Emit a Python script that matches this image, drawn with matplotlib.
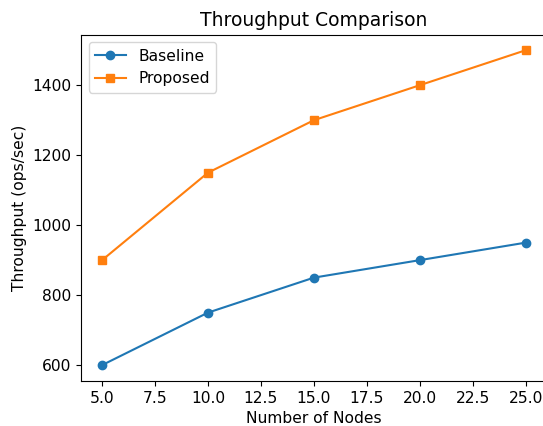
import matplotlib
matplotlib.use("Agg")
import matplotlib.pyplot as plt

nodes = [5, 10, 15, 20, 25]
baseline = [600, 750, 850, 900, 950]
proposed = [900, 1150, 1300, 1400, 1500]

fig, ax = plt.subplots(figsize=(5.43, 4.26), dpi=100)

ax.plot(nodes, baseline, marker="o", label="Baseline")
ax.plot(nodes, proposed, marker="s", label="Proposed")

ax.set_title("Throughput Comparison", fontsize=13.5)
ax.set_xlabel("Number of Nodes", fontsize=11.2)
ax.set_ylabel("Throughput (ops/sec)", fontsize=11.2)
ax.tick_params(labelsize=11.2)
ax.legend(fontsize=11.2)

# the reference crop cuts off the right spine
fig.subplots_adjust(left=0.149, right=1.007, bottom=0.106, top=0.919)
fig.savefig("out.png", dpi=100)
